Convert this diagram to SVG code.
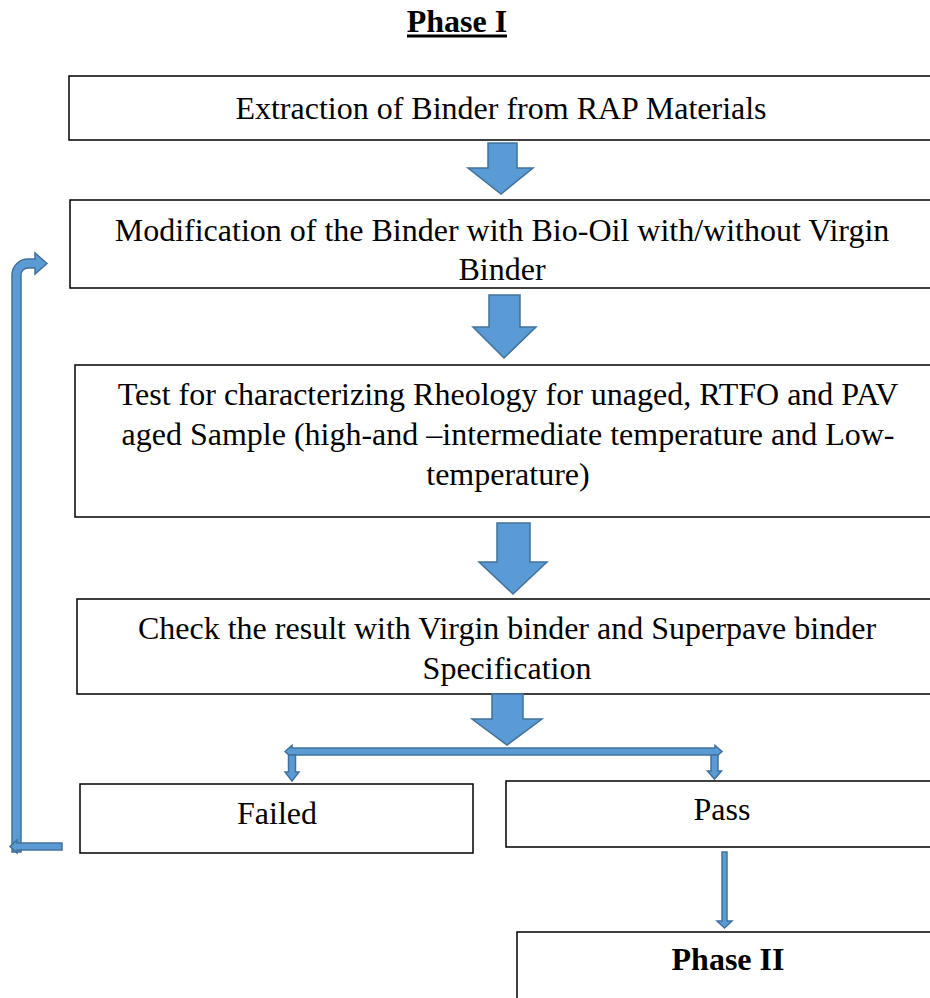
<svg xmlns="http://www.w3.org/2000/svg" width="930" height="998" viewBox="0 0 930 998">
<defs>
<style>
.box{fill:#ffffff;stroke:#000000;stroke-width:1.5}
.t{font-family:"Liberation Serif","Times New Roman",serif;font-size:32px;fill:#000000;text-anchor:middle}
.b{font-weight:bold}
.arr{fill:#5b9bd5;stroke:#41719c;stroke-width:1.5;stroke-linejoin:miter}
</style>
</defs>
<rect width="930" height="998" fill="#ffffff"/>
<g id="title">
<text class="t b" x="457" y="32">Phase I</text>
<rect x="407" y="34.5" width="100" height="3" fill="#000000"/>
</g>
<g id="n1">
<rect class="box" x="69" y="76" width="880" height="64"/>
<text class="t" x="501" y="119">Extraction of Binder from RAP Materials</text>
</g>
<g id="n2">
<rect class="box" x="70" y="200" width="880" height="88"/>
<text class="t" x="502" y="241">Modification of the Binder with Bio-Oil with/without Virgin</text>
<text class="t" x="502" y="280">Binder</text>
</g>
<g id="n3">
<rect class="box" x="75" y="365" width="880" height="152"/>
<text class="t" x="508" y="405">Test for characterizing Rheology for unaged, RTFO and PAV</text>
<text class="t" x="508" y="445">aged Sample (high-and –intermediate temperature and Low-</text>
<text class="t" x="508" y="485">temperature)</text>
</g>
<g id="n4">
<rect class="box" x="77" y="599" width="880" height="95"/>
<text class="t" x="507" y="639">Check the result with Virgin binder and Superpave binder</text>
<text class="t" x="507" y="679">Specification</text>
</g>
<g id="failed">
<rect class="box" x="80" y="784" width="393" height="69"/>
<text class="t" x="277" y="824">Failed</text>
</g>
<g id="pass">
<rect class="box" x="506" y="781" width="440" height="66"/>
<text class="t" x="722" y="820">Pass</text>
</g>
<g id="phase2">
<rect class="box" x="517" y="932" width="440" height="90"/>
<text class="t b" x="728" y="970">Phase II</text>
</g>
<g id="connectors">
<path class="arr" d="M488,143 L517,143 L517,168 L533,168 L501,194 L468,168 L488,168 Z"/>
<path class="arr" d="M489,295 L520,295 L520,327 L536,327 L504,358 L473,327 L489,327 Z"/>
<path class="arr" d="M497,523 L530,523 L530,562 L547,562 L513,594 L479,562 L497,562 Z"/>
<path class="arr" d="M492,694 L523,694 L523,719 L542,719 L507,745 L472,719 L492,719 Z"/>
<path class="arr" d="M285,751.5 L292,745.5 L292,748 L715,748 L715,745.5 L722,751.5 L715,757.5 L715,755 L292,755 L292,757.5 Z"/>
<path class="arr" d="M288.5,755 L295.5,755 L295.5,772 L299,772 L292,781 L285,772 L288.5,772 Z"/>
<path class="arr" d="M711,755 L718,755 L718,771 L721.5,771 L714.5,779 L707.5,771 L711,771 Z"/>
<path class="arr" d="M722,852 L727,852 L727,921 L732,921 L724.5,928 L717,921 L722,921 Z"/>
<path class="arr" d="M12,852 L12,275 A16,16 0 0 1 28,259 L35,259 L35,253 L47,263.5 L35,274 L35,268 L28,268 A7,7 0 0 0 21,275 L21,852 Z"/>
<path class="arr" d="M62,843 L62,850 L17,850 L17,853 L10,846.5 L17,840 L17,843 Z"/>
</g>
</svg>
